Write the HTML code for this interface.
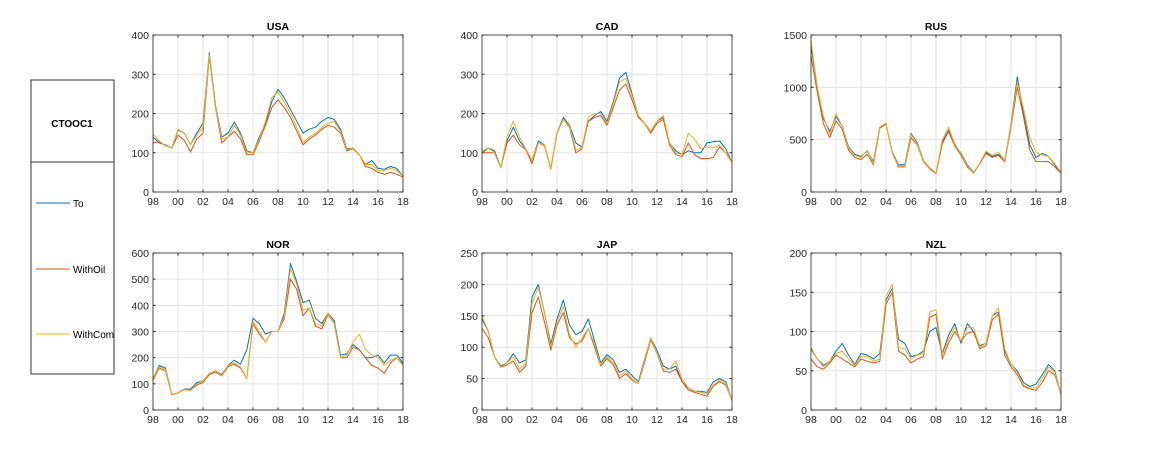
<!DOCTYPE html>
<html><head><meta charset="utf-8"><style>
body{margin:0;background:#fff;width:1173px;height:460px;overflow:hidden;font-family:"Liberation Sans",sans-serif}
svg{position:absolute;left:0;top:0}
</style></head><body>
<svg id="fig" width="1173" height="460" xmlns="http://www.w3.org/2000/svg">
 <g>
  <rect x="31" y="80" width="83" height="294" fill="#fff" stroke="#333" stroke-width="1"/>
  <line x1="31" y1="162" x2="114" y2="162" stroke="#333"/>
  <text x="72" y="127" text-anchor="middle" font-size="10" font-weight="bold" fill="#000">CTOOC1</text>
  <g><line x1="36" y1="203" x2="70" y2="203" stroke="#0072BD"/><text x="73" y="207" font-size="10" fill="#000">To</text></g>
  <g><line x1="36" y1="269" x2="70" y2="269" stroke="#D95319"/><text x="73" y="273" font-size="10" fill="#000">WithOil</text></g>
  <g><line x1="36" y1="334" x2="70" y2="334" stroke="#EDB120"/><text x="73" y="338" font-size="10" fill="#000">WithCom</text></g>
 </g>
</svg>
<script>
const xTickLabels=["98","00","02","04","06","08","10","12","14","16","18"];
const panelNames=["USA","CAD","RUS","NOR","JAP","NZL"];
const yMaxes=[400,400,1500,600,250,200];
const yStepsArr=[100,100,500,100,50,50];
const usaTo=[140,125,120,112,158,150,120,150,175,355,220,140,150,178,150,105,100,140,175,230,262,240,210,180,150,160,165,180,190,185,160,110,112,95,70,80,60,58,65,60,40];
const usaOil=[125,128,118,112,145,132,102,135,150,345,215,125,140,155,135,95,95,130,170,215,235,215,190,155,120,135,145,160,170,165,150,105,110,95,65,60,50,45,50,45,38];
const usaCom=[148,130,118,112,160,150,120,145,165,350,215,135,140,170,145,100,100,135,180,240,255,228,200,165,125,140,150,165,175,180,155,108,112,95,70,70,55,55,60,55,40];
const cadTo=[100,112,105,62,130,165,130,110,80,130,120,60,150,190,170,125,115,180,195,205,180,230,290,305,250,195,175,155,180,190,125,105,95,105,100,100,125,128,130,110,75];
const cadOil=[100,100,100,62,125,145,120,108,72,125,118,58,150,185,165,100,110,180,190,195,170,215,260,275,235,190,175,150,175,185,120,95,90,125,95,85,85,88,115,100,75];
const cadCom=[105,112,100,62,140,180,140,110,80,125,120,60,150,185,168,108,112,190,200,200,175,225,280,290,245,195,175,155,180,195,125,100,95,150,135,110,115,112,120,100,75];
const rusTo=[1400,1000,700,580,720,630,430,360,340,390,290,620,650,380,260,260,560,470,300,230,180,480,590,450,370,260,185,270,380,340,360,300,650,1100,750,450,330,370,340,260,180];
const rusOil=[1300,950,650,520,680,600,400,330,310,360,260,610,650,370,240,240,520,450,290,220,175,460,580,440,350,240,180,270,370,330,350,290,620,1000,720,400,290,290,290,240,180];
const rusCom=[1450,1000,720,550,750,630,420,350,330,400,270,620,660,370,250,250,550,460,300,225,180,500,620,460,360,250,180,275,390,350,380,300,640,1050,800,520,380,350,340,270,190];
const norTo=[120,170,160,60,65,80,80,105,110,140,150,135,170,190,175,230,350,330,290,300,300,370,560,490,410,420,350,330,370,340,210,215,250,230,200,200,210,180,210,210,180];
const norOil=[115,160,150,58,65,78,75,95,105,135,145,130,165,175,160,120,330,290,260,300,300,350,500,460,360,390,320,310,365,330,200,200,240,230,200,170,160,140,180,200,175];
const norCom=[120,165,155,60,65,78,75,100,110,140,150,130,170,180,165,120,340,300,260,300,300,360,540,480,380,390,330,320,370,330,200,210,260,290,230,210,200,170,190,200,170];
const japTo=[145,125,85,70,75,90,75,80,180,200,155,105,145,175,135,120,125,145,110,75,88,80,60,65,55,45,80,115,95,70,65,70,45,35,30,30,28,45,50,45,15];
const japOil=[130,115,85,68,72,78,60,70,155,180,140,95,135,155,115,105,110,130,100,70,82,72,50,58,48,42,75,112,90,62,60,65,45,32,28,25,22,38,45,40,15];
const japCom=[150,125,85,68,75,85,65,75,170,195,155,100,140,165,120,100,115,130,105,72,85,75,55,62,50,42,78,115,90,65,65,78,50,35,30,28,25,40,48,42,15];
const nzlTo=[78,65,57,62,75,85,70,58,72,70,65,72,140,155,90,85,68,70,75,100,105,72,95,110,85,110,100,82,85,120,125,75,58,50,35,30,33,45,58,50,20];
const nzlOil=[65,55,52,60,70,65,60,55,65,62,60,62,135,150,75,70,60,65,68,118,122,65,85,100,88,98,100,78,82,115,122,70,55,45,30,27,25,35,50,45,20];
const nzlCom=[80,65,55,62,72,75,65,57,68,68,62,65,145,160,80,78,65,70,72,125,128,70,90,105,88,105,105,80,85,120,130,78,58,48,32,28,28,40,55,48,20];
const seriesByPanel=[[usaTo,usaOil,usaCom],[cadTo,cadOil,cadCom],[rusTo,rusOil,rusCom],[norTo,norOil,norCom],[japTo,japOil,japCom],[nzlTo,nzlOil,nzlCom]];
const colors=["#0072BD","#D95319","#EDB120"];
const NS="http://www.w3.org/2000/svg";
const svg=document.getElementById("fig");
function mk(t,a,p){const e=document.createElementNS(NS,t);for(const k in a)e.setAttribute(k,a[k]);p.appendChild(e);return e;}
const lefts=[153,482,811],tops=[35,253],W=250,H=157;
panelNames.forEach((nm,i)=>{
 const x0=lefts[i%3],y0=tops[Math.floor(i/3)],ym=yMaxes[i];
 const g=mk("g",{},svg);
 
 
 const xs=t=>x0+t/40*W, ys=v=>y0+H-v/ym*H;
 mk("rect",{x:x0,y:y0,width:W,height:H,fill:"#fff"},g);
 xTickLabels.forEach((lb,k)=>{const x=x0+k/10*W;
  mk("line",{x1:x,y1:y0,x2:x,y2:y0+H,stroke:"#e3e3e3","stroke-width":1},g);
  mk("line",{x1:x,y1:y0+H,x2:x,y2:y0+H-2.5,stroke:"#262626"},g);
  mk("line",{x1:x,y1:y0,x2:x,y2:y0+2.5,stroke:"#262626"},g);
  const t=mk("text",{x:x,y:y0+H+13,"text-anchor":"middle","font-size":"10.5",fill:"#262626"},g);t.textContent=lb;
  
  });
 for(let v=0;v<=ym;v+=yStepsArr[i]){const y=ys(v);
  mk("line",{x1:x0,y1:y,x2:x0+W,y2:y,stroke:"#e3e3e3"},g);
  mk("line",{x1:x0,y1:y,x2:x0+2.5,y2:y,stroke:"#262626"},g);
  mk("line",{x1:x0+W,y1:y,x2:x0+W-2.5,y2:y,stroke:"#262626"},g);
  const t=mk("text",{x:x0-4,y:y+4,"text-anchor":"end","font-size":"10.5",fill:"#262626"},g);t.textContent=v;
  
  }
 seriesByPanel[i].forEach((arr,s)=>{
  const p=mk("polyline",{points:arr.map((v,k)=>xs(k).toFixed(1)+","+ys(v).toFixed(1)).join(" "),fill:"none",stroke:colors[s],"stroke-width":1,"stroke-linejoin":"round"},g);
  
  });
 mk("rect",{x:x0,y:y0,width:W,height:H,fill:"none",stroke:"#262626","stroke-width":0.8},g);
 const tt=mk("text",{x:x0+W/2,y:y0-5,"text-anchor":"middle","font-size":"10.5","font-weight":"bold",fill:"#000"},g);tt.textContent=nm;
 
 
});
</script>
</body></html>
